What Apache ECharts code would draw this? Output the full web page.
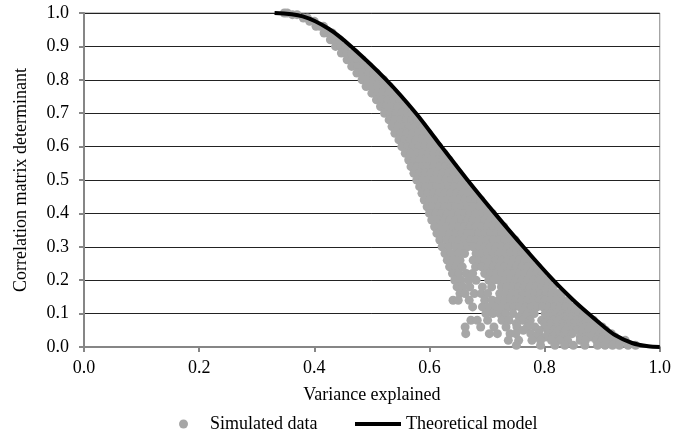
<!DOCTYPE html>
<html>
<head>
<meta charset="utf-8">
<style>
  html, body { margin: 0; padding: 0; background: #fff; }
  #chart { width: 674px; height: 435px; }
</style>
<script src="https://cdn.jsdelivr.net/npm/echarts@6/dist/echarts.min.js"></script>
</head>
<body>
<div id="chart"></div>
<script>
var modelX = [0.331, 0.38, 0.425, 0.464, 0.525, 0.5765, 0.621, 0.666, 0.7135, 0.763, 0.815, 0.85, 0.876, 0.90, 0.923, 0.952, 0.98, 1.0];
var modelY = [1.0, 0.99, 0.953, 0.90, 0.80, 0.70, 0.60, 0.50, 0.40, 0.30, 0.20, 0.14, 0.10, 0.065, 0.035, 0.012, 0.002, 0.0];

// simulated cloud, estimated row by row: [y, x, x, ...]
var simRows = [
  [1.0, 0.348, 0.353],
  [0.995, 0.362, 0.37],
  [0.985, 0.381, 0.388],
  [0.975, 0.392, 0.40],
  [0.96, 0.403, 0.41, 0.416],
  [0.94, 0.417, 0.424, 0.431],
  [0.92, 0.428, 0.436, 0.444],
  [0.90, 0.437, 0.446, 0.455],
  [0.88, 0.447, 0.456, 0.465, 0.471],
  [0.86, 0.457, 0.466, 0.475, 0.483],
  [0.84, 0.465, 0.475, 0.485, 0.495],
  [0.82, 0.474, 0.484, 0.494, 0.504, 0.508],
  [0.80, 0.483, 0.493, 0.503, 0.513, 0.52],
  [0.78, 0.49, 0.50, 0.51, 0.52, 0.53],
  [0.76, 0.50, 0.51, 0.52, 0.53, 0.54],
  [0.74, 0.508, 0.518, 0.528, 0.538, 0.548],
  [0.72, 0.515, 0.525, 0.535, 0.545, 0.555, 0.558],
  [0.70, 0.522, 0.532, 0.542, 0.552, 0.562, 0.57],
  [0.68, 0.53, 0.54, 0.55, 0.56, 0.57, 0.579],
  [0.66, 0.535, 0.545, 0.555, 0.565, 0.575, 0.585, 0.589],
  [0.64, 0.54, 0.551, 0.561, 0.571, 0.581, 0.591, 0.598],
  [0.62, 0.547, 0.557, 0.567, 0.577, 0.587, 0.597, 0.607],
  [0.60, 0.552, 0.562, 0.572, 0.582, 0.592, 0.602, 0.612, 0.616],
  [0.58, 0.558, 0.568, 0.578, 0.588, 0.598, 0.608, 0.618, 0.625],
  [0.56, 0.564, 0.574, 0.584, 0.594, 0.604, 0.614, 0.624, 0.634],
  [0.54, 0.568, 0.578, 0.588, 0.598, 0.608, 0.618, 0.628, 0.638, 0.642],
  [0.52, 0.573, 0.583, 0.593, 0.603, 0.613, 0.623, 0.633, 0.643, 0.651],
  [0.50, 0.578, 0.588, 0.598, 0.608, 0.618, 0.628, 0.638, 0.648, 0.658],
  [0.48, 0.583, 0.593, 0.603, 0.613, 0.623, 0.633, 0.643, 0.653, 0.663, 0.669],
  [0.46, 0.587, 0.597, 0.607, 0.617, 0.627, 0.637, 0.647, 0.657, 0.667, 0.677],
  [0.44, 0.591, 0.601, 0.611, 0.621, 0.631, 0.641, 0.651, 0.661, 0.671, 0.681, 0.689],
  [0.42, 0.596, 0.606, 0.616, 0.626, 0.636, 0.646, 0.656, 0.666, 0.676, 0.686, 0.696],
  [0.40, 0.60, 0.611, 0.621, 0.631, 0.641, 0.651, 0.661, 0.671, 0.681, 0.691, 0.701, 0.709],
  [0.38, 0.604, 0.615, 0.626, 0.636, 0.646, 0.656, 0.666, 0.676, 0.686, 0.696, 0.706, 0.716],
  [0.36, 0.609, 0.62, 0.631, 0.641, 0.651, 0.661, 0.671, 0.681, 0.691, 0.701, 0.711, 0.721, 0.729],
  [0.34, 0.613, 0.625, 0.636, 0.646, 0.656, 0.666, 0.676, 0.686, 0.696, 0.706, 0.716, 0.726, 0.736],
  [0.32, 0.618, 0.63, 0.641, 0.651, 0.661, 0.671, 0.681, 0.691, 0.701, 0.711, 0.721, 0.731, 0.741, 0.749],
  [0.30, 0.622, 0.634, 0.646, 0.656, 0.666, 0.676, 0.686, 0.696, 0.706, 0.716, 0.726, 0.736, 0.746, 0.756],
  [0.28, 0.627, 0.638, 0.65, 0.661, 0.681, 0.691, 0.701, 0.711, 0.721, 0.731, 0.741, 0.751, 0.761, 0.768],
  [0.26, 0.631, 0.642, 0.653, 0.676, 0.686, 0.696, 0.706, 0.716, 0.726, 0.736, 0.746, 0.756, 0.766, 0.776],
  [0.24, 0.635, 0.646, 0.657, 0.68, 0.691, 0.701, 0.711, 0.721, 0.731, 0.741, 0.751, 0.761, 0.771, 0.781, 0.788],
  [0.22, 0.64, 0.651, 0.664, 0.675, 0.696, 0.706, 0.716, 0.726, 0.736, 0.746, 0.756, 0.766, 0.776, 0.786, 0.796],
  [0.20, 0.644, 0.655, 0.668, 0.681, 0.703, 0.711, 0.721, 0.731, 0.741, 0.751, 0.761, 0.771, 0.781, 0.791, 0.801, 0.807],
  [0.18, 0.648, 0.658, 0.67, 0.692, 0.708, 0.725, 0.735, 0.745, 0.755, 0.765, 0.775, 0.785, 0.795, 0.805, 0.815],
  [0.16, 0.653, 0.662, 0.678, 0.69, 0.701, 0.722, 0.733, 0.743, 0.753, 0.763, 0.773, 0.783, 0.793, 0.803, 0.813, 0.823, 0.83],
  [0.14, 0.641, 0.65, 0.669, 0.696, 0.709, 0.72, 0.731, 0.741, 0.751, 0.761, 0.771, 0.781, 0.791, 0.801, 0.811, 0.821, 0.831, 0.841],
  [0.12, 0.675, 0.692, 0.704, 0.715, 0.726, 0.737, 0.747, 0.757, 0.767, 0.777, 0.787, 0.797, 0.807, 0.817, 0.827, 0.837, 0.847, 0.855],
  [0.10, 0.698, 0.71, 0.722, 0.732, 0.745, 0.761, 0.771, 0.782, 0.801, 0.811, 0.821, 0.831, 0.841, 0.851, 0.861, 0.869],
  [0.09, 0.756, 0.768, 0.806, 0.816, 0.826, 0.836, 0.846, 0.856, 0.866, 0.876],
  [0.08, 0.672, 0.683, 0.701, 0.726, 0.738, 0.762, 0.775, 0.795, 0.806, 0.816, 0.826, 0.836, 0.846, 0.856, 0.866, 0.876, 0.885],
  [0.07, 0.751, 0.772, 0.80, 0.811, 0.821, 0.831, 0.841, 0.851, 0.861, 0.871, 0.881, 0.89],
  [0.06, 0.662, 0.689, 0.712, 0.733, 0.752, 0.77, 0.783, 0.801, 0.812, 0.822, 0.832, 0.842, 0.852, 0.862, 0.872, 0.882, 0.892, 0.90],
  [0.05, 0.763, 0.79, 0.805, 0.816, 0.826, 0.836, 0.846, 0.856, 0.866, 0.876, 0.886, 0.896, 0.906],
  [0.04, 0.663, 0.704, 0.718, 0.74, 0.75, 0.776, 0.79, 0.807, 0.82, 0.836, 0.848, 0.866, 0.876, 0.886, 0.896, 0.906, 0.916],
  [0.03, 0.785, 0.802, 0.815, 0.827, 0.862, 0.872, 0.882, 0.892, 0.902, 0.912, 0.922],
  [0.02, 0.737, 0.755, 0.778, 0.793, 0.812, 0.826, 0.84, 0.862, 0.871, 0.89, 0.90, 0.91, 0.92, 0.93, 0.94],
  [0.005, 0.751, 0.793, 0.818, 0.835, 0.85, 0.87, 0.892, 0.905, 0.918, 0.93, 0.945, 0.958]
];

var simData = [];
simRows.forEach(function (row) {
  for (var i = 1; i < row.length; i++) {
    simData.push([row[i], row[0]]);
  }
});
var modelData = modelX.map(function (x, i) {
  return [x, modelY[i]];
});

var serif = '"Liberation Serif", "Times New Roman", serif';
var textColor = '#000';
var axisGray = '#868686';

var myChart = echarts.init(document.getElementById('chart'));

var option = {
  animation: false,
  backgroundColor: '#fff',
  textStyle: { fontFamily: serif, color: textColor },
  grid: {
    left: 84, right: 13, top: 13, bottom: 88,
    show: true, borderColor: axisGray, borderWidth: 1
  },
  xAxis: {
    type: 'value',
    min: 0, max: 1, interval: 0.2,
    name: 'Variance explained',
    nameLocation: 'middle',
    nameGap: 39,
    nameTextStyle: { fontFamily: serif, fontSize: 18, color: textColor },
    axisLine: { show: true, onZero: false, lineStyle: { color: axisGray, width: 2 } },
    axisTick: { show: true, length: 5, lineStyle: { color: axisGray, width: 2 } },
    axisLabel: {
      fontFamily: serif, fontSize: 18, color: textColor, margin: 12,
      formatter: function (v) { return v.toFixed(1); }
    },
    splitLine: { show: false }
  },
  yAxis: {
    type: 'value',
    min: 0, max: 1, interval: 0.1,
    name: 'Correlation matrix determinant',
    nameLocation: 'middle',
    nameGap: 54,
    nameTextStyle: { fontFamily: serif, fontSize: 18, color: textColor },
    axisLine: { show: true, onZero: false, lineStyle: { color: axisGray, width: 2 } },
    axisTick: { show: true, length: 5, lineStyle: { color: axisGray, width: 2 } },
    axisLabel: {
      fontFamily: serif, fontSize: 18, color: textColor, margin: 15,
      formatter: function (v) { return v.toFixed(1); }
    },
    splitLine: { show: true, lineStyle: { color: '#222', width: 1 } }
  },
  legend: [
    {
      data: ['Simulated data'],
      left: 174, top: 410,
      itemWidth: 9, itemHeight: 9, itemGap: 0,
      textStyle: { fontFamily: serif, fontSize: 18, color: textColor, padding: [0, 0, 0, 17] }
    },
    {
      data: [{ name: 'Theoretical model', icon: 'rect' }],
      left: 350, top: 410,
      itemWidth: 46, itemHeight: 4, itemGap: 0,
      itemStyle: { color: '#000' },
      textStyle: { fontFamily: serif, fontSize: 18, color: textColor, padding: [0, 0, 0, 0] }
    }
  ],
  series: [
    {
      name: 'Simulated data',
      type: 'scatter',
      data: simData,
      symbol: 'circle',
      symbolSize: 9,
      itemStyle: { color: '#A6A6A6', opacity: 1 },
      z: 2
    },
    {
      name: 'Theoretical model',
      type: 'line',
      data: modelData,
      smooth: 0.3,
      symbol: 'none',
      itemStyle: { color: '#000' },
      lineStyle: { color: '#000', width: 4 },
      z: 3
    }
  ]
};

myChart.setOption(option);
</script>
</body>
</html>
